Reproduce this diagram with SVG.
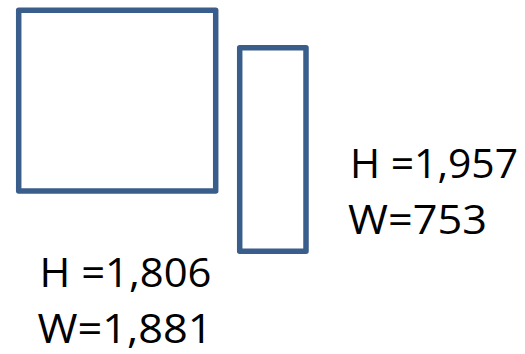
<svg xmlns="http://www.w3.org/2000/svg" width="525" height="354" viewBox="0 0 525 354">
<style>
.box{fill:#ffffff;stroke:#3A5E8C;stroke-width:5.5;stroke-linejoin:round}
.lbl{font-family:"Open Sans","Liberation Sans",sans-serif;font-size:41px;fill:#000000}
</style>
<rect width="525" height="354" fill="#ffffff"/>
<g id="square">
<rect class="box" x="18.7" y="10.3" width="197" height="180.8"/>
</g>
<g id="tall">
<rect class="box" x="239.7" y="47.7" width="66.3" height="203.6"/>
</g>
<g id="labels-tall">
<text class="lbl" x="350" y="177.7" textLength="168" lengthAdjust="spacingAndGlyphs">H =1,957</text>
<text class="lbl" x="348" y="234.3" textLength="139" lengthAdjust="spacingAndGlyphs">W=753</text>
</g>
<g id="labels-square">
<text class="lbl" x="39.5" y="286.7" textLength="172" lengthAdjust="spacingAndGlyphs">H =1,806</text>
<text class="lbl" x="37.5" y="342.7" textLength="175" lengthAdjust="spacingAndGlyphs">W=1,881</text>
</g>
<g id="connectors"></g>
</svg>
